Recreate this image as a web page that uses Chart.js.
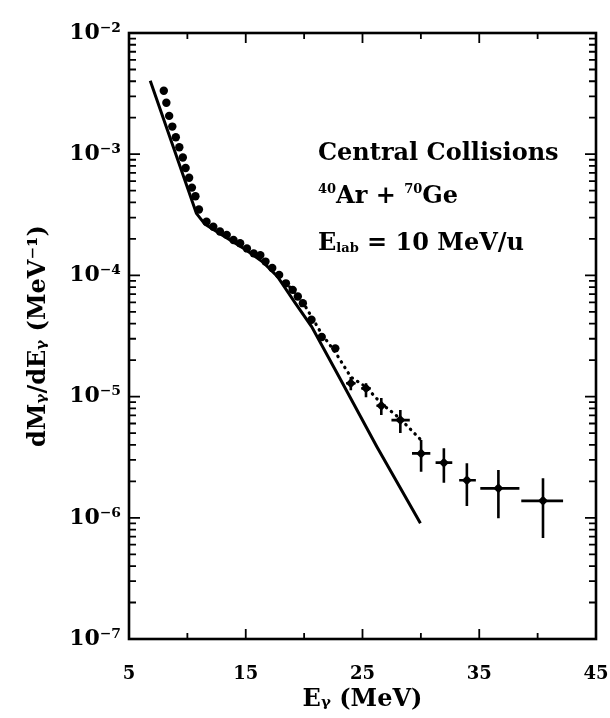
<!DOCTYPE html>
<html>
<head>
<meta charset="utf-8">
<script src="https://cdn.jsdelivr.net/npm/chart.js@4.4.0/dist/chart.umd.min.js"></script>
<style>
  html, body { margin: 0; padding: 0; background: #fff; }
  #wrap { width: 610px; height: 718px; position: relative; }
</style>
</head>
<body>
<div id="wrap"><canvas id="gammaChart"></canvas></div>
<script>
// measured spectrum, filled dots
var dotE = [7.98, 8.20, 8.44, 8.71, 9.01, 9.31, 9.61, 9.85, 10.15, 10.39, 10.69, 10.99,
            11.64, 12.22, 12.79, 13.37, 13.95, 14.52, 15.10, 15.68, 16.25, 16.69, 17.27,
            17.86, 18.44, 19.02, 19.46, 19.89, 20.63, 21.51, 22.67];
var dotVal = [3.34e-3, 2.66e-3, 2.07e-3, 1.69e-3, 1.38e-3, 1.14e-3, 9.4e-4, 7.7e-4, 6.4e-4, 5.3e-4, 4.5e-4, 3.5e-4,
              2.77e-4, 2.52e-4, 2.30e-4, 2.16e-4, 1.96e-4, 1.84e-4, 1.67e-4, 1.52e-4, 1.47e-4, 1.30e-4, 1.15e-4,
              1.01e-4, 8.6e-5, 7.6e-5, 6.7e-5, 5.9e-5, 4.3e-5, 3.1e-5, 2.5e-5];

// high energy points with error bars
var errE = [24.00, 25.30, 26.61, 28.24, 30.02, 31.97, 33.94, 36.64, 40.46];
var errVal = [1.29e-5, 1.17e-5, 8.4e-6, 6.4e-6, 3.4e-6, 2.85e-6, 2.04e-6, 1.75e-6, 1.38e-6];
var errXLow = [23.6, 24.9, 26.2, 27.48, 29.24, 31.26, 33.28, 35.09, 38.60];
var errXHigh = [24.4, 25.7, 27.0, 29.05, 30.81, 32.69, 34.71, 38.44, 42.18];
var errYLow = [1.13e-5, 9.9e-6, 7.05e-6, 5.01e-6, 2.40e-6, 1.95e-6, 1.25e-6, 9.9e-7, 6.8e-7];
var errYHigh = [1.45e-5, 1.29e-5, 9.72e-6, 7.74e-6, 4.39e-6, 3.74e-6, 2.82e-6, 2.48e-6, 2.12e-6];

// calculation, solid curve
var solidE = [6.82, 10.77, 11.5, 13.0, 15.0, 16.5, 17.71, 19.2, 20.64, 22.99, 26.23, 29.96];
var solidVal = [4.04e-3, 3.25e-4, 2.65e-4, 2.15e-4, 1.63e-4, 1.28e-4, 9.8e-5, 6.0e-5, 3.78e-5, 1.46e-5, 3.86e-6, 9.0e-7];

// dotted curve
var dottedE = [18.4, 19.9, 21.5, 22.7, 24.0, 25.3, 26.6, 28.2, 30.0];
var dottedVal = [8.8e-5, 6.0e-5, 3.3e-5, 2.3e-5, 1.45e-5, 1.2e-5, 8.8e-6, 6.6e-6, 4.4e-6];

// axes
var xTickValues = [5, 10, 15, 20, 25, 30, 35, 40, 45];
var xTickLabels = ['5', '', '15', '', '25', '', '35', '', '45'];
var yDecades = [-7, -6, -5, -4, -3, -2];
var yTickLabels = ['10\u207B\u2077', '10\u207B\u2076', '10\u207B\u2075', '10\u207B\u2074', '10\u207B\u00B3', '10\u207B\u00B2'];

var serif = '"DejaVu Serif", "Liberation Serif", serif';

function pts(xs, ys) {
    return xs.map(function (x, i) { return {x: x, y: ys[i]}; });
}

// y ticks: decades plus 2..9 minor
var yTickValues = [];
yDecades.forEach(function (d, i) {
    yTickValues.push(Math.pow(10, d));
    if (i < yDecades.length - 1) {
        for (var m = 2; m <= 9; m++) yTickValues.push(m * Math.pow(10, d));
    }
});

function isDecade(v) {
    var l = Math.log10(v);
    return Math.abs(l - Math.round(l)) < 1e-6;
}

// frame, inward ticks and error bars
var framePlugin = {
    id: 'frame',
    afterDatasetsDraw: function (chart) {
        var ctx = chart.ctx, a = chart.chartArea;
        var xs = chart.scales.x, ys = chart.scales.y;
        ctx.save();
        ctx.strokeStyle = '#000';
        ctx.lineCap = 'butt';

        // error bars
        ctx.lineWidth = 2.6;
        errE.forEach(function (e, i) {
            var px = xs.getPixelForValue(e), py = ys.getPixelForValue(errVal[i]);
            ctx.beginPath();
            ctx.moveTo(xs.getPixelForValue(errXLow[i]), py);
            ctx.lineTo(xs.getPixelForValue(errXHigh[i]), py);
            ctx.moveTo(px, ys.getPixelForValue(errYHigh[i]));
            ctx.lineTo(px, ys.getPixelForValue(errYLow[i]));
            ctx.stroke();
        });

        // frame
        ctx.lineWidth = 2.6;
        ctx.strokeRect(a.left, a.top, a.right - a.left, a.bottom - a.top);

        // inward tick marks
        ctx.lineWidth = 1.8;
        ctx.beginPath();
        yTickValues.forEach(function (v) {
            var py = ys.getPixelForValue(v);
            var len = isDecade(v) ? 11 : 7;
            ctx.moveTo(a.left, py); ctx.lineTo(a.left + len, py);
            ctx.moveTo(a.right, py); ctx.lineTo(a.right - len, py);
        });
        xTickValues.forEach(function (v, i) {
            if (i === 0 || i === xTickValues.length - 1) return;
            var px = xs.getPixelForValue(v);
            var len = xTickLabels[i] ? 10 : 6;
            ctx.moveTo(px, a.bottom); ctx.lineTo(px, a.bottom - len);
            ctx.moveTo(px, a.top); ctx.lineTo(px, a.top + len);
        });
        ctx.stroke();
        ctx.restore();
    },
    afterDraw: function (chart) {
        var ctx = chart.ctx, a = chart.chartArea;
        ctx.save();
        ctx.fillStyle = '#000';
        ctx.textBaseline = 'alphabetic';
        var big = 'bold 24px ' + serif;
        var small = 'bold 13px ' + serif;
        var x0 = a.left + 189;

        // pieces: [text, font, raise]
        function line(parts, y) {
            var x = x0;
            parts.forEach(function (p) {
                ctx.font = p[1];
                ctx.fillText(p[0], x, y - p[2]);
                x += ctx.measureText(p[0]).width;
            });
        }
        line([['Central Collisions', big, 0]], a.top + 127);
        line([['40', small, 10], ['Ar + ', big, 0], ['70', small, 10], ['Ge', big, 0]], a.top + 170);
        line([['E', big, 0], ['lab', small, -2], [' = 10 MeV/u', big, 0]], a.top + 217);
        ctx.restore();
    }
};

var ctx = document.getElementById('gammaChart').getContext('2d');
var gammaChart = new Chart(ctx, {
    type: 'scatter',
    data: {
        datasets: [
            {
                label: 'data',
                data: pts(dotE, dotVal),
                pointRadius: 4.2,
                pointBackgroundColor: '#000',
                pointBorderColor: '#000',
                pointBorderWidth: 0,
                showLine: false
            },
            {
                label: 'data with errors',
                data: pts(errE, errVal),
                pointStyle: 'rectRot',
                pointRadius: 5,
                pointBackgroundColor: '#000',
                pointBorderColor: '#000',
                pointBorderWidth: 0,
                showLine: false
            },
            {
                label: 'calculation',
                data: pts(solidE, solidVal),
                showLine: true,
                borderColor: '#000',
                borderWidth: 3,
                pointRadius: 0,
                tension: 0
            },
            {
                label: 'dotted',
                data: pts(dottedE, dottedVal),
                showLine: true,
                borderColor: '#000',
                borderWidth: 3.2,
                borderCapStyle: 'round',
                borderDash: [0.5, 6],
                pointRadius: 0,
                tension: 0
            }
        ]
    },
    options: {
        responsive: true,
        maintainAspectRatio: false,
        animation: false,
        layout: { padding: { left: 0, right: 14, top: 33, bottom: 0 } },
        plugins: {
            legend: { display: false },
            tooltip: { enabled: false }
        },
        scales: {
            x: {
                type: 'linear',
                min: 5,
                max: 45,
                afterBuildTicks: function (scale) {
                    scale.ticks = xTickValues.map(function (v) { return {value: v}; });
                },
                afterFit: function (scale) {
                    scale.height = 79;
                    scale.paddingLeft = 0;
                    scale.paddingRight = 0;
                },
                grid: { display: false, drawTicks: false },
                border: { display: false },
                ticks: {
                    autoSkip: false,
                    maxRotation: 0,
                    padding: 25,
                    color: '#000',
                    font: { family: serif, size: 18, weight: 'bold' },
                    callback: function (value) {
                        var i = xTickValues.indexOf(value);
                        return i >= 0 ? xTickLabels[i] : '';
                    }
                },
                title: {
                    display: true,
                    text: 'E\u1D67 (MeV)',
                    color: '#000',
                    font: { family: serif, size: 24, weight: 'bold' },
                    padding: { top: 0, bottom: 4 }
                }
            },
            y: {
                type: 'logarithmic',
                min: 1e-7,
                max: 1e-2,
                afterBuildTicks: function (scale) {
                    scale.ticks = yTickValues.map(function (v) { return {value: v}; });
                },
                afterFit: function (scale) {
                    scale.width = 129;
                    scale.paddingTop = 0;
                    scale.paddingBottom = 0;
                },
                grid: { display: false, drawTicks: false },
                border: { display: false },
                ticks: {
                    autoSkip: false,
                    padding: 8,
                    color: '#000',
                    font: { family: serif, size: 22, weight: 'bold' },
                    callback: function (value) {
                        if (!isDecade(value)) return '';
                        var i = yDecades.indexOf(Math.round(Math.log10(value)));
                        return i >= 0 ? yTickLabels[i] : '';
                    }
                },
                title: {
                    display: true,
                    text: 'dM\u1D67/dE\u1D67 (MeV\u207B\u00B9)',
                    color: '#000',
                    font: { family: serif, size: 24, weight: 'bold' },
                    padding: { top: 24, bottom: 0 }
                }
            }
        }
    },
    plugins: [framePlugin]
});
</script>
</body>
</html>
